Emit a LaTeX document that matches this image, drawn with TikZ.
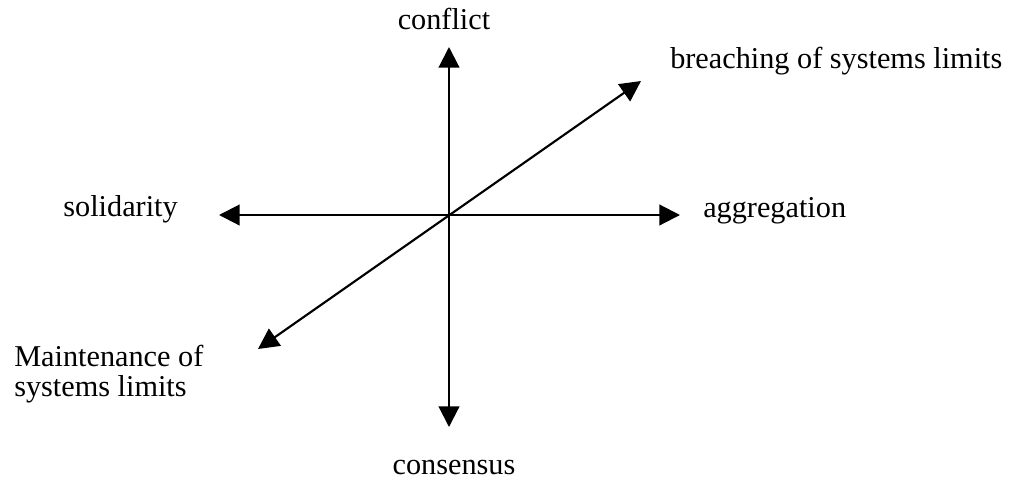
\documentclass[tikz,border=0pt]{standalone}
\usepackage{fontspec}
\setmainfont{Liberation Serif}
\usetikzlibrary{arrows.meta}
\tikzset{
  axis/.style={line width=1.6pt,{Triangle[length=15.5pt,width=15.5pt]}-{Triangle[length=15.5pt,width=15.5pt]}},
  lbl/.style={inner sep=0pt,font=\fontsize{22.7}{22.5}\selectfont,align=left}
}
\begin{document}
\begin{tikzpicture}[x=0.75pt,y=-0.75pt]
\useasboundingbox (0,0) rectangle (1017,479);
\coordinate (c) at (449,215);
\coordinate (top) at (449,47);
\coordinate (bot) at (449,427);
\coordinate (lft) at (219,215);
\coordinate (rgt) at (680,215);
\coordinate (ur) at (641,81);
\coordinate (ll) at (258,349);
\draw[axis] (bot) -- (top);
\draw[axis] (lft) -- (rgt);
\draw[axis] (ll) -- (ur);
\node[lbl,anchor=base] (conflict) at (444,29) {conflict};
\node[lbl,anchor=base west] (breach) at (670,68) {breaching of systems limits};
\node[lbl,anchor=base east] (solid) at (178,216) {solidarity};
\node[lbl,anchor=base west] (aggr) at (703,217) {aggregation};
\node[lbl,anchor=west] (maint) at (14,374) {Maintenance of\\systems limits};
\node[lbl,anchor=base,text depth=0pt] (cons) at (454,474) {consensus};
\end{tikzpicture}
\end{document}
